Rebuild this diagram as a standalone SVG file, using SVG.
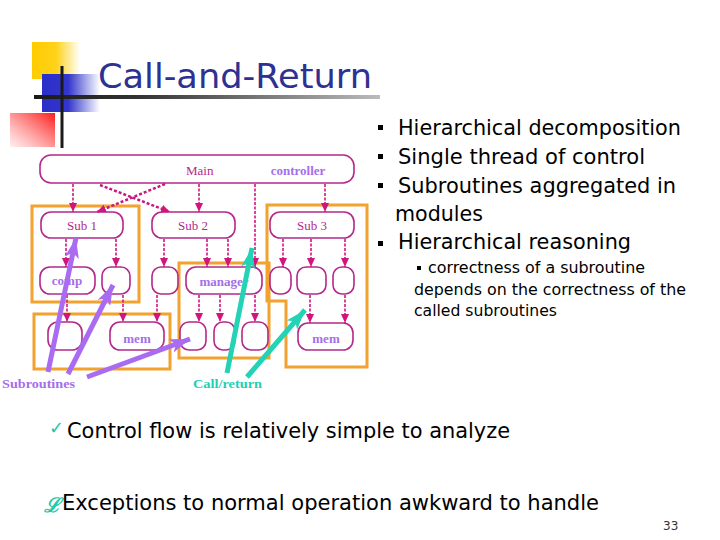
<svg xmlns="http://www.w3.org/2000/svg" width="720" height="540" viewBox="0 0 720 540">
<defs>
<linearGradient id="gy" x1="0" y1="0" x2="1" y2="0"><stop offset="0" stop-color="#FFCC00"/><stop offset="0.5" stop-color="#FFD21A"/><stop offset="1" stop-color="#FFD21A" stop-opacity="0"/></linearGradient>
<linearGradient id="gb" x1="0" y1="0" x2="1" y2="0"><stop offset="0" stop-color="#2B2FC8"/><stop offset="0.45" stop-color="#3236CC"/><stop offset="1" stop-color="#3236CC" stop-opacity="0"/></linearGradient>
<linearGradient id="gr" x1="1" y1="0" x2="0" y2="1"><stop offset="0" stop-color="#FF1A1A"/><stop offset="1" stop-color="#FF6060" stop-opacity="0.1"/></linearGradient>
<linearGradient id="gl" x1="0" y1="0" x2="1" y2="0"><stop offset="0" stop-color="#1A1A1A"/><stop offset="0.3" stop-color="#333333"/><stop offset="1" stop-color="#BBBBBB"/></linearGradient>
<marker id="ah" markerUnits="userSpaceOnUse" markerWidth="9" markerHeight="10" refX="9" refY="4" orient="auto"><path d="M0,0 L9,4 L0,8 z" fill="#D0157F"/></marker>
<marker id="ap" markerUnits="userSpaceOnUse" markerWidth="20" markerHeight="14" refX="20" refY="7" orient="auto"><path d="M0,0 L20,7 L0,14 L5,7 z" fill="#A96BF2"/></marker>
<marker id="ac" markerUnits="userSpaceOnUse" markerWidth="20" markerHeight="14" refX="20" refY="7" orient="auto"><path d="M0,0 L20,7 L0,14 L5,7 z" fill="#22D3B6"/></marker>
<style>
.nd{fill:#fff;stroke:#B3298A;stroke-width:1.6}
.md{fill:none;stroke:#F2A22E;stroke-width:3}
.ar{stroke:#D0157F;stroke-width:1.6;stroke-dasharray:3 1.5;fill:none;marker-end:url(#ah)}
.cr{stroke:#C8187F;stroke-width:2.5;stroke-dasharray:3 2;fill:none;marker-end:url(#ah)}
.pa{stroke:#A96BF2;stroke-width:5;fill:none;marker-end:url(#ap)}
.ca{stroke:#22D3B6;stroke-width:5;fill:none;marker-end:url(#ac)}
.lm{font-family:"Liberation Serif",serif;font-size:13px;fill:#B3298A}
.lp{font-family:"Liberation Serif",serif;font-size:13px;font-weight:bold;fill:#A56EEA}
.bl{font-family:"DejaVu Sans",sans-serif;font-size:22px;fill:#000}
.sb{font-family:"DejaVu Sans",sans-serif;font-size:16px;fill:#000}
.bt{font-family:"DejaVu Sans",sans-serif;font-size:22px;fill:#000}
</style>
</defs>
<rect width="720" height="540" fill="#fff"/>
<g id="decor">
<rect x="32" y="42" width="48" height="37" fill="url(#gy)"/>
<rect x="42" y="74" width="58" height="38" fill="url(#gb)"/>
<rect x="10" y="113" width="45" height="34" fill="url(#gr)"/>
<rect x="34" y="95" width="346" height="4" fill="url(#gl)"/>
<rect x="60.5" y="66" width="3" height="82" fill="#1A1A1A"/>
</g>
<text id="title" x="98" y="88" font-family="DejaVu Sans,sans-serif" font-size="34" fill="#2E3192" textLength="274" lengthAdjust="spacingAndGlyphs">Call-and-Return</text>
<g id="modules">
<rect class="md" x="32" y="206" width="107" height="96"/>
<rect class="md" x="34" y="314" width="136" height="55"/>
<rect class="md" x="179" y="263" width="90" height="95"/>
<path class="md" d="M267,205 H367 V367 H286 V301 H267 Z"/>
</g>
<g id="main"><rect class="nd" x="40" y="155" width="314" height="28" rx="11"/><text class="lm" x="186" y="175" font-size="14">Main</text><text class="lp" x="298" y="175" text-anchor="middle">controller</text></g>
<g id="sub1"><rect class="nd" x="41" y="212" width="82" height="26" rx="10"/><text class="lm" x="82" y="230" text-anchor="middle">Sub 1</text></g>
<g id="sub2"><rect class="nd" x="152" y="212" width="83" height="26" rx="10"/><text class="lm" x="193" y="230" text-anchor="middle">Sub 2</text></g>
<g id="sub3"><rect class="nd" x="270" y="212" width="84" height="26" rx="10"/><text class="lm" x="312" y="230" text-anchor="middle">Sub 3</text></g>
<g id="comp"><rect class="nd" x="40" y="267" width="55" height="27" rx="10"/><text class="lp" x="67" y="285" text-anchor="middle">comp</text></g>
<g id="n1"><rect class="nd" x="102" y="267" width="28" height="27" rx="9"/></g>
<g id="n2"><rect class="nd" x="152" y="267" width="26" height="27" rx="9"/></g>
<g id="manager"><rect class="nd" x="186" y="267" width="76" height="27" rx="10"/><text class="lp" x="224" y="286" text-anchor="middle">manager</text></g>
<g id="n3"><rect class="nd" x="270" y="267" width="21" height="27" rx="9"/></g>
<g id="n4"><rect class="nd" x="297" y="267" width="29" height="27" rx="9"/></g>
<g id="n5"><rect class="nd" x="333" y="267" width="21" height="27" rx="9"/></g>
<g id="n6"><rect class="nd" x="48" y="322" width="34" height="28" rx="10"/></g>
<g id="mem1"><rect class="nd" x="110" y="322" width="54" height="28" rx="10"/><text class="lp" x="137" y="343" text-anchor="middle">mem</text></g>
<g id="n7"><rect class="nd" x="180" y="322" width="26" height="28" rx="9"/></g>
<g id="n8"><rect class="nd" x="214" y="322" width="21" height="28" rx="9"/></g>
<g id="n9"><rect class="nd" x="242" y="322" width="26" height="28" rx="9"/></g>
<g id="mem2"><rect class="nd" x="298" y="323" width="55" height="27" rx="10"/><text class="lp" x="326" y="343" text-anchor="middle">mem</text></g>
<g id="connectors">
<line class="ar" x1="73" y1="184" x2="73" y2="212"/>
<line class="ar" x1="199" y1="184" x2="199" y2="212"/>
<line class="ar" x1="325" y1="184" x2="325" y2="212"/>
<line class="cr" x1="100" y1="185" x2="170" y2="212"/>
<line class="cr" x1="165" y1="184" x2="97" y2="212"/>
<line class="ar" x1="255" y1="184" x2="255" y2="267"/>
<line class="ar" x1="66" y1="239" x2="66" y2="267"/>
<line class="ar" x1="116" y1="239" x2="116" y2="267"/>
<line class="ar" x1="164" y1="239" x2="164" y2="267"/>
<line class="ar" x1="207" y1="239" x2="207" y2="267"/>
<line class="ar" x1="228" y1="239" x2="228" y2="267"/>
<line class="ar" x1="283" y1="239" x2="283" y2="267"/>
<line class="ar" x1="311" y1="239" x2="311" y2="267"/>
<line class="ar" x1="345" y1="239" x2="345" y2="267"/>
<line class="ar" x1="67" y1="295" x2="67" y2="322"/>
<line class="ar" x1="123" y1="295" x2="123" y2="322"/>
<line class="ar" x1="157" y1="295" x2="157" y2="322"/>
<line class="ar" x1="199" y1="295" x2="199" y2="322"/>
<line class="ar" x1="220" y1="295" x2="220" y2="322"/>
<line class="ar" x1="255" y1="295" x2="255" y2="322"/>
<line class="ar" x1="310" y1="295" x2="310" y2="323"/>
<line class="ar" x1="345" y1="295" x2="345" y2="323"/>
<line class="pa" x1="48" y1="372" x2="76" y2="238"/>
<line class="pa" x1="68" y1="374" x2="113" y2="285"/>
<line class="pa" x1="87" y1="377" x2="190" y2="339"/>
<line class="ca" x1="227" y1="373" x2="252" y2="248"/>
<line class="ca" x1="247" y1="377" x2="305" y2="310"/>
</g>
<text class="lp" x="2" y="388" textLength="73" lengthAdjust="spacingAndGlyphs">Subroutines</text>
<text class="lp" x="193" y="388" style="fill:#22CFB2" textLength="69" lengthAdjust="spacingAndGlyphs">Call/return</text>
<g id="bullets">
<rect x="378" y="125" width="5" height="5" fill="#000"/>
<rect x="378" y="154" width="5" height="5" fill="#000"/>
<rect x="378" y="183" width="5" height="5" fill="#000"/>
<rect x="378" y="241" width="5" height="5" fill="#000"/>
<text class="bl" x="398" y="135" textLength="283" lengthAdjust="spacingAndGlyphs">Hierarchical decomposition</text>
<text class="bl" x="398" y="164" textLength="247" lengthAdjust="spacingAndGlyphs">Single thread of control</text>
<text class="bl" x="398" y="193" textLength="278" lengthAdjust="spacingAndGlyphs">Subroutines aggregated in</text>
<text class="bl" x="395" y="221" textLength="88" lengthAdjust="spacingAndGlyphs">modules</text>
<text class="bl" x="398" y="249" textLength="233" lengthAdjust="spacingAndGlyphs">Hierarchical reasoning</text>
<rect x="417" y="266" width="4" height="4" fill="#000"/>
<text class="sb" x="428" y="273" textLength="217" lengthAdjust="spacingAndGlyphs">correctness of a subroutine</text>
<text class="sb" x="414" y="295" textLength="272" lengthAdjust="spacingAndGlyphs">depends on the correctness of the</text>
<text class="sb" x="414" y="316" textLength="143" lengthAdjust="spacingAndGlyphs">called subroutines</text>
</g>
<g id="bottom">
<text x="49" y="434" font-family="DejaVu Sans,sans-serif" font-size="18" font-weight="bold" fill="#22C9A8">✓</text>
<text class="bt" x="67" y="438" font-size="23" textLength="443" lengthAdjust="spacingAndGlyphs">Control flow is relatively simple to analyze</text>
<text x="44" y="512" font-family="DejaVu Serif,serif" font-style="italic" font-weight="bold" font-size="20" fill="#22C9A8">ℒ</text>
<text class="bt" x="62" y="510" font-size="23" textLength="537" lengthAdjust="spacingAndGlyphs">Exceptions to normal operation awkward to handle</text>
<text x="663" y="530" font-family="DejaVu Sans,sans-serif" font-size="12" fill="#333">33</text>
</g>
</svg>
